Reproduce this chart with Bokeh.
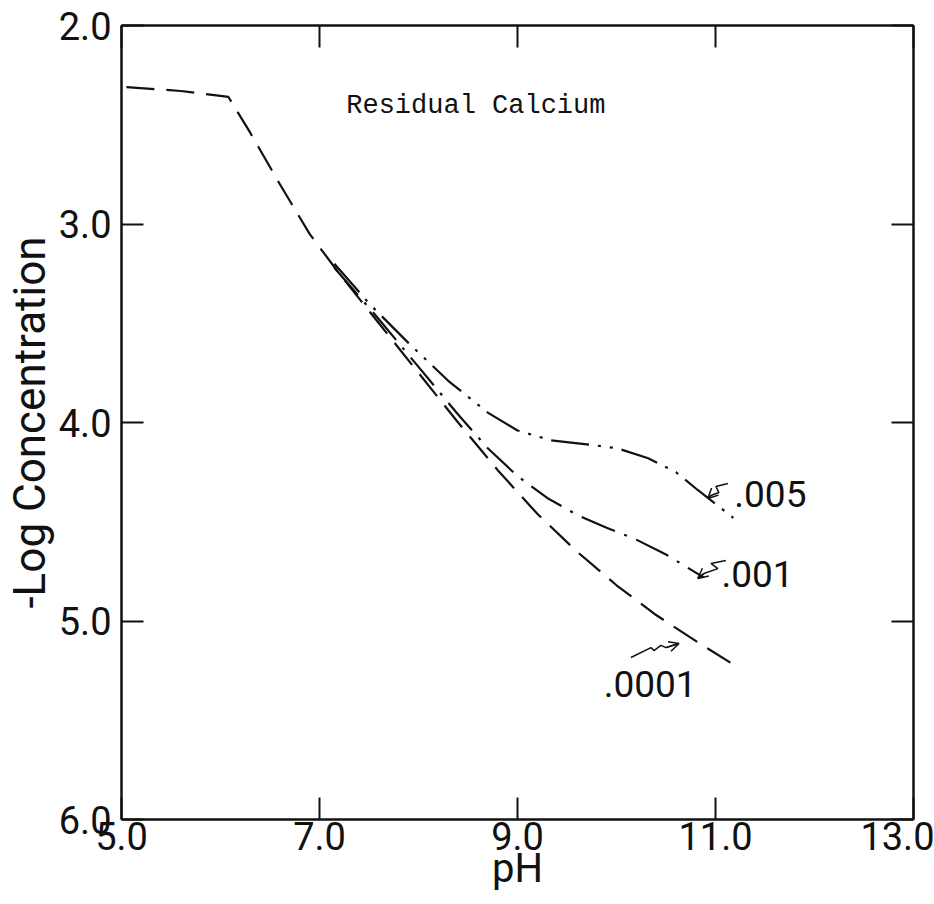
from bokeh.plotting import figure
from bokeh.models import (Range1d, LinearAxis, FixedTicker, Label, Arrow, OpenHead,
                          ColumnDataSource, PrintfTickFormatter, CustomJSTickFormatter)
from bokeh.core.properties import value
from bokeh.embed import file_html
from bokeh.resources import INLINE

# ---------------- data ----------------
x_ticks = [5.0, 7.0, 9.0, 11.0, 13.0]
y_ticks = [2.0, 3.0, 4.0, 5.0, 6.0]

# curve .0001 (long dashes)
ph_0001 = [5.05, 5.6, 6.08, 6.3, 6.6, 6.9, 7.2, 7.6, 8.0, 8.4, 8.8, 9.2, 9.6, 10.0, 10.4, 10.8, 11.15]
logc_0001 = [2.31, 2.33, 2.36, 2.54, 2.80, 3.05, 3.25, 3.50, 3.75, 4.00, 4.24, 4.46, 4.65, 4.82, 4.97, 5.10, 5.21]

# curve .001 (dash-dot)
ph_001 = [7.15, 7.6, 8.0, 8.4, 8.7, 9.0, 9.3, 9.6, 9.9, 10.2, 10.5, 10.88]
logc_001 = [3.22, 3.48, 3.72, 3.96, 4.13, 4.27, 4.38, 4.465, 4.53, 4.59, 4.665, 4.78]

# curve .005 (dash-dot-dot)
ph_005 = [7.15, 7.5, 7.9, 8.3, 8.7, 9.0, 9.34, 9.7, 10.01, 10.32, 10.6, 10.82, 11.18]
logc_005 = [3.20, 3.40, 3.60, 3.79, 3.95, 4.04, 4.09, 4.11, 4.13, 4.18, 4.25, 4.34, 4.48]

# curve labels
label_text = [".005", ".001", ".0001"]
label_ph = [11.19, 11.06, 9.87]
label_logc = [4.358, 4.761, 5.315]

# hand-drawn pointer squiggles (tail -> head)
arrow_005_ph = [11.125, 11.004, 11.034, 10.954, 10.923]
arrow_005_logc = [4.307, 4.322, 4.353, 4.368, 4.383]
arrow_001_ph = [11.105, 10.954, 11.024, 10.883, 10.822]
arrow_001_logc = [4.695, 4.710, 4.736, 4.761, 4.786]
arrow_0001_ph = [10.146, 10.348, 10.379, 10.449, 10.499, 10.631]
arrow_0001_logc = [5.184, 5.134, 5.149, 5.123, 5.134, 5.113]

title_text = "Residual Calcium"
x_label = "pH"
y_label = "-Log Concentration"

# ---------------- figure ----------------
INK = "#111111"
SANS = "Roboto"

p = figure(width=934, height=904, x_range=Range1d(5.0, 13.0), y_range=Range1d(6.0, 2.0),
           output_backend="svg", toolbar_location=None,
           x_axis_type=None, y_axis_type=None,
           min_border_left=120, min_border_right=21, min_border_top=25, min_border_bottom=85,
           background_fill_color="white", border_fill_color="white")
p.outline_line_color = None
p.xgrid.visible = False
p.ygrid.visible = False


def style(ax, ticks, show_labels, standoff):
    ax.ticker = FixedTicker(ticks=ticks)
    ax.axis_line_color = INK
    ax.axis_line_width = 2.5
    ax.major_tick_in = 22
    ax.major_tick_out = 0
    ax.major_tick_line_color = INK
    ax.major_tick_line_width = 2
    ax.minor_tick_line_color = None
    if show_labels:
        ax.formatter = PrintfTickFormatter(format="%.1f")
        ax.major_label_text_font = SANS
        ax.major_label_text_font_size = "38px"
        ax.major_label_text_color = INK
        ax.major_label_standoff = standoff
        ax.axis_label_text_font = SANS
        ax.axis_label_text_font_style = "normal"
        ax.axis_label_text_color = INK
    else:
        ax.formatter = CustomJSTickFormatter(code="return ''")
        ax.major_label_standoff = 0


bottom = LinearAxis(axis_label=x_label)
style(bottom, x_ticks, True, 2)
bottom.axis_label_text_font_size = "40px"
bottom.axis_label_standoff = -8
p.add_layout(bottom, "below")

left = LinearAxis(axis_label=y_label)
style(left, y_ticks, True, 10)
left.axis_label_text_font_size = "44px"
left.axis_label_standoff = 0
p.add_layout(left, "left")

top = LinearAxis()
style(top, x_ticks, False, 0)
p.add_layout(top, "above")
right = LinearAxis()
style(right, y_ticks, False, 0)
p.add_layout(right, "right")

# curves
p.line(ph_0001, logc_0001, line_color=INK, line_width=2.2, line_dash="28 12")
p.line(ph_001, logc_001, line_color=INK, line_width=2.2, line_dash="36 10 3 10")
p.line(ph_005, logc_005, line_color=INK, line_width=2.2, line_dash="38 9 3 9 3 9")

# curve labels
src = ColumnDataSource(dict(x=label_ph, y=label_logc, t=label_text))
p.text(x="x", y="y", text="t", source=src, text_font=value(SANS),
       text_font_size=value("37px"), text_color=INK, text_align="left",
       text_baseline="middle")

# pointers
for xs, ys in [(arrow_005_ph, arrow_005_logc), (arrow_001_ph, arrow_001_logc),
               (arrow_0001_ph, arrow_0001_logc)]:
    p.line(xs, ys, line_color=INK, line_width=1.5)
    p.add_layout(Arrow(end=OpenHead(size=10, line_width=1.5, line_color=INK),
                       x_start=xs[-2], y_start=ys[-2], x_end=xs[-1], y_end=ys[-1],
                       line_color=INK, line_width=1.5))

# in-plot title text
p.add_layout(Label(x=7.27, y=2.408, text=title_text, text_font="Liberation Mono",
                   text_font_size="27px", text_color=INK, text_align="left",
                   text_baseline="middle"))

open("out.html", "w").write(file_html(p, INLINE))
